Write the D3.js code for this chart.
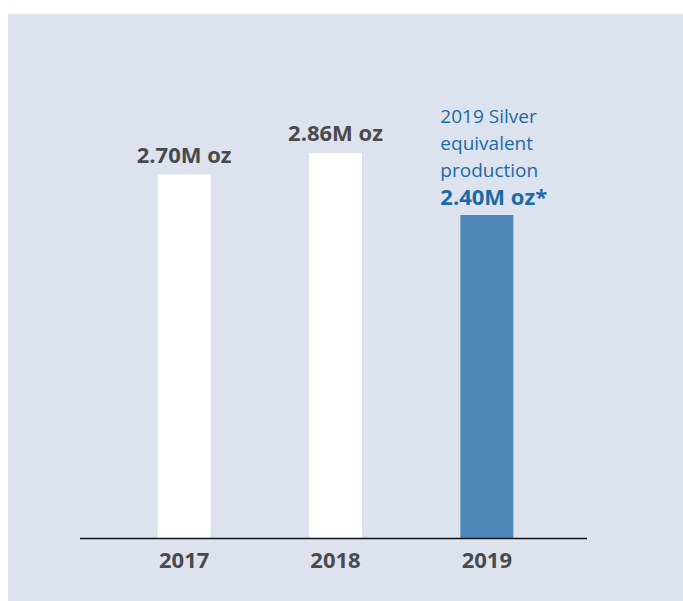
<!DOCTYPE html>
<html>
<head>
<meta charset="utf-8">
<script src="https://cdn.jsdelivr.net/npm/d3@7"></script>
<style>
  body { margin: 0; background: #ffffff; }
  svg { display: block; font-family: "Open Sans", "Noto Sans", sans-serif; }
</style>
</head>
<body>
<script>
// data
var years      = ['2017', '2018', '2019'];
var values     = [2.70, 2.86, 2.40];
var valueTexts = ['2.70M oz', '2.86M oz', '2.40M oz*'];
var noteLines  = ['2019 Silver', 'equivalent', 'production'];

// init
var width  = 683,
    height = 601,
    axisY  = 538.5;

var grey = '#4a4a4d',
    blue = '#1b6aa5';

var svg = d3.select('body')
    .append('svg')
    .attr('width', width)
    .attr('height', height);

// background panel
svg.append('rect')
    .attr('x', 8)
    .attr('y', 14)
    .attr('width', width - 8)
    .attr('height', height - 14)
    .attr('fill', '#dce3ee');

// scale for x-axis
var xScale = d3.scaleBand()
    .domain(years)
    .range([82, 589])
    .paddingInner(0.65)
    .paddingOuter(0.5);

// scale for y-axis
var yScale = d3.scaleLinear()
    .domain([0, d3.max(values)])
    .range([axisY, 153]);

// bars
svg.append('g')
    .selectAll('rect')
    .data(years)
    .join('rect')
    .attr('x', d => xScale(d))
    .attr('y', (d, i) => yScale(values[i]))
    .attr('width', xScale.bandwidth())
    .attr('height', (d, i) => axisY - yScale(values[i]))
    .attr('fill', (d, i) => i === years.length - 1 ? '#4d87b7' : '#ffffff');

// x-axis (line from 80 to 587)
var x_axis = d3.axisBottom(xScale).tickSize(0).tickSizeOuter(0).tickPadding(14);
var gx = svg.append('g')
    .attr('transform', 'translate(0,' + axisY + ')')
    .call(x_axis);
gx.select('.domain')
    .attr('d', 'M80,0H587')
    .attr('stroke', '#111111')
    .attr('stroke-width', 1.5);
gx.selectAll('.tick text')
    .attr('dy', '0.71em')
    .attr('fill', grey)
    .style('font-family', '"Open Sans", "Noto Sans", sans-serif')
    .style('font-size', '22px')
    .style('font-weight', 700);

// value labels for the first bars
svg.append('g')
    .selectAll('text')
    .data(years.slice(0, -1))
    .join('text')
    .attr('x', d => xScale(d) + xScale.bandwidth() / 2)
    .attr('y', (d, i) => yScale(values[i]) - 12)
    .attr('text-anchor', 'middle')
    .attr('fill', grey)
    .style('font-size', '22px')
    .style('font-weight', 700)
    .text((d, i) => valueTexts[i]);

// annotation for the last bar
var last = years.length - 1;
var noteX = xScale(years[last]) - 20,
    noteBase = yScale(values[last]) - 10;
var note = svg.append('text')
    .attr('x', noteX)
    .attr('fill', blue);
note.selectAll('tspan.line')
    .data(noteLines)
    .join('tspan')
    .attr('class', 'line')
    .attr('x', noteX)
    .attr('y', (d, i) => noteBase - 27 * (noteLines.length - i) - 1)
    .style('font-size', '19px')
    .text(d => d);
note.append('tspan')
    .attr('x', noteX)
    .attr('y', noteBase)
    .style('font-size', '22px')
    .style('font-weight', 700)
    .text(valueTexts[last]);
</script>
</body>
</html>
